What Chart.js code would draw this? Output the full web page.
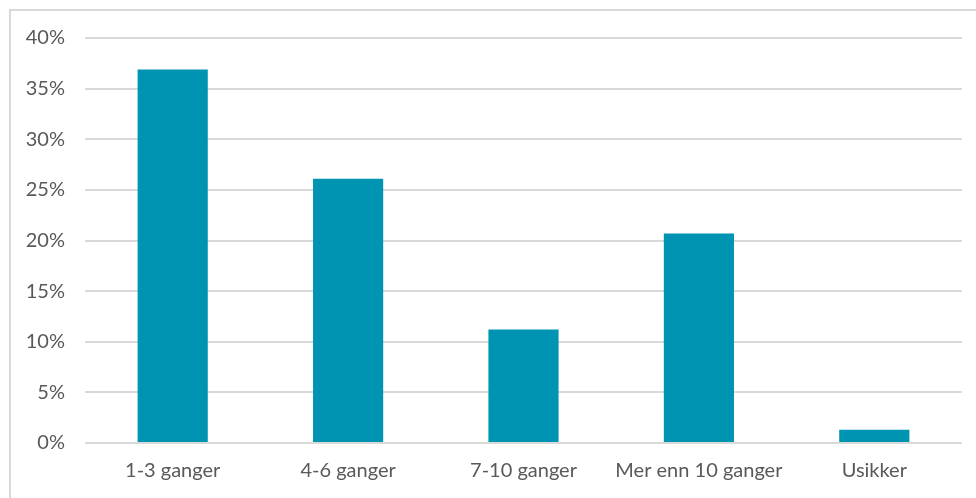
<!DOCTYPE html>
<html>
<head>
<meta charset="utf-8">
<script src="https://cdn.jsdelivr.net/npm/chart.js@4"></script>
<style>
  html, body { margin: 0; padding: 0; background: #fff; }
  #wrap { position: relative; width: 976px; height: 498px; overflow: hidden; }
  #ramme { position: absolute; left: 9px; top: 9px; width: 1000px; height: 520px; border: 2px solid #d9d9d9; box-sizing: border-box; }
  canvas { position: absolute; left: 0; top: 0; }
</style>
</head>
<body>
<div id="wrap">
  <div id="ramme"></div>
  <canvas id="canvas" width="976" height="498"></canvas>
</div>
<script>
// kategorier og verdier (prosent)
const kategorier = ["1-3 ganger", "4-6 ganger", "7-10 ganger", "Mer enn 10 ganger", "Usikker"];
const verdier = [36.9, 26.1, 11.2, 20.7, 1.3];
const yTicks = [0, 5, 10, 15, 20, 25, 30, 35, 40];

const tekstFarge = "#595959";
const font = { family: "Lato", size: 20 };

new Chart("canvas", {
  type: "bar",
  data: {
    labels: kategorier,
    datasets: [
      {
        backgroundColor: "#0094b3",
        data: verdier,
        barPercentage: 0.4,
        categoryPercentage: 1.0,
      },
    ],
  },
  options: {
    responsive: false,
    animation: false,
    layout: { padding: { top: 38, right: 14, left: 0, bottom: 0 } },
    plugins: {
      legend: { display: false },
      tooltip: { enabled: false },
    },
    scales: {
      x: {
        grid: { display: false, drawTicks: false },
        border: { display: false },
        ticks: { color: tekstFarge, font: font, padding: 16, maxRotation: 0 },
        afterFit: (s) => { s.height = 55; },
      },
      y: {
        min: 0,
        max: 40,
        afterBuildTicks: (s) => { s.ticks = yTicks.map((v) => ({ value: v })); },
        grid: { color: "#d9d9d9", lineWidth: 2, drawTicks: false },
        border: { display: false },
        ticks: {
          color: tekstFarge,
          font: font,
          padding: 20,
          callback: (v) => v + "%",
        },
        afterFit: (s) => { s.width = 85; },
      },
    },
  },
});
</script>
</body>
</html>
